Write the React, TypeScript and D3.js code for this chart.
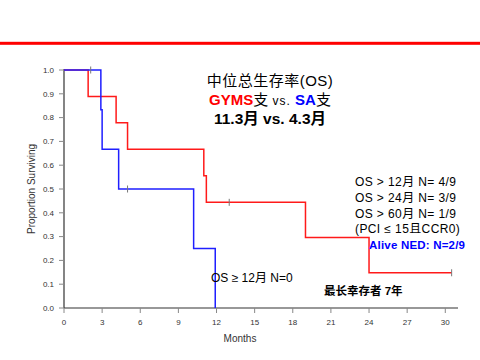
import React from "react";
import * as d3 from "d3";

const redTimes = [0, 1.9, 4.1, 5.0, 11.0, 11.2, 19.0, 24.0];
const redSurv = [1, 0.889, 0.778, 0.667, 0.556, 0.444, 0.296, 0.148];
const redEnd = 30.5;
const redCensorT = [13.0, 30.5];
const redCensorS = [0.444, 0.148];

const blueTimes = [0, 2.9, 3.0, 4.3, 10.2, 11.9];
const blueSurv = [1, 0.833, 0.667, 0.5, 0.25, 0];
const blueEnd = 11.9;
const blueCensorT = [2.1, 5.0];
const blueCensorS = [1.0, 0.5];

const xTicks = [0, 3, 6, 9, 12, 15, 18, 21, 24, 27, 30];
const yTicks = [0, 0.1, 0.2, 0.3, 0.4, 0.5, 0.6, 0.7, 0.8, 0.9, 1.0];

const osLines = ["OS > 12月 N= 4/9", "OS > 24月 N= 3/9", "OS > 60月 N= 1/9", "(PCI ≤ 15且CCR0)"];

const W = 480;
const H = 360;
const SANS = "'Liberation Sans', Arial, sans-serif";
const CJK = "'Liberation Sans', 'Noto Sans CJK SC', sans-serif";

export default function App() {
  const x = d3.scaleLinear().domain([0, 31]).range([64, 458]);
  const y = d3.scaleLinear().domain([0, 1]).range([308, 70]);

  const line = d3
    .line<[number, number]>()
    .x((d) => x(d[0]))
    .y((d) => y(d[1]))
    .curve(d3.curveStepAfter);

  const redPts: [number, number][] = redTimes.map((t, i) => [t, redSurv[i]]);
  redPts.push([redEnd, redSurv[redSurv.length - 1]]);
  const bluePts: [number, number][] = blueTimes.map((t, i) => [t, blueSurv[i]]);
  bluePts.push([blueEnd, blueSurv[blueSurv.length - 1]]);

  const axisColor = "#333";

  const censor = (t: number, s: number, k: string) => (
    <line key={k} x1={x(t)} x2={x(t)} y1={y(s) - 3.5} y2={y(s) + 3.5} stroke="#777" strokeWidth={1} />
  );

  return (
    <svg
      width={W}
      height={H}
      style={{ position: "absolute", left: 0, top: 0, background: "#fff" }}
    >
      <rect x={0} y={0} width={W} height={H} fill="#fff" />
      <rect x={0} y={41.8} width={W} height={3} fill="#ff0000" />

      {/* axes */}
      <line x1={x(0)} x2={x(0)} y1={y(1) - 1} y2={y(0)} stroke={axisColor} strokeWidth={1.2} />
      <line x1={x(0)} x2={x(31)} y1={y(0)} y2={y(0)} stroke={axisColor} strokeWidth={1.2} />
      {yTicks.map((v) => (
        <g key={"y" + v}>
          <line x1={x(0) - 5} x2={x(0)} y1={y(v)} y2={y(v)} stroke="#888" strokeWidth={1} />
          <text
            x={x(0) - 10}
            y={y(v)}
            dy="0.35em"
            textAnchor="end"
            fontFamily={SANS}
            fontSize={8}
            fill="#333"
          >
            {v.toFixed(1)}
          </text>
        </g>
      ))}
      {xTicks.map((v) => (
        <g key={"x" + v}>
          <line x1={x(v)} x2={x(v)} y1={y(0)} y2={y(0) + 5} stroke="#888" strokeWidth={1} />
          <text
            x={x(v)}
            y={322}
            dy="0.35em"
            textAnchor="middle"
            fontFamily={SANS}
            fontSize={8}
            fill="#333"
          >
            {v}
          </text>
        </g>
      ))}
      <text x={240} y={338} dy="0.35em" textAnchor="middle" fontFamily={SANS} fontSize={10} fill="#333">
        Months
      </text>
      <text
        transform={`translate(31,189) rotate(-90)`}
        textAnchor="middle"
        dy="0.35em"
        fontFamily={SANS}
        fontSize={10}
        fill="#333"
      >
        Proportion Surviving
      </text>

      {/* curves */}
      <path d={line(redPts) || ""} fill="none" stroke="#ff1a1a" strokeWidth={1.5} />
      <path d={line(bluePts) || ""} fill="none" stroke="#1f1fff" strokeWidth={1.5} />
      {redCensorT.map((t, i) => censor(t, redCensorS[i], "rc" + i))}
      {blueCensorT.map((t, i) => censor(t, blueCensorS[i], "bc" + i))}

      {/* title */}
      <text x={270} y={81} dy="0.35em" textAnchor="middle" fontFamily={CJK} fontSize={15} letterSpacing={0.5} fill="#000">
        中位总生存率(OS)
      </text>
      <text x={270} y={99.5} dy="0.35em" textAnchor="middle" fontFamily={CJK} fontSize={15} fill="#000">
        <tspan fill="#ff0000" fontWeight="bold">GYMS</tspan>
        <tspan>支 </tspan>
        <tspan fontSize={12} letterSpacing={1}> vs. </tspan>
        <tspan fill="#0000ff" fontWeight="bold">SA</tspan>
        <tspan>支</tspan>
      </text>
      <text
        x={270}
        y={118.5}
        dy="0.35em"
        textAnchor="middle"
        fontFamily={CJK}
        fontSize={15.5}
        fontWeight="bold"
        fill="#000"
      >
        11.3月 vs. 4.3月
      </text>

      {/* right annotations */}
      {osLines.map((s, i) => (
        <text
          key={s}
          x={355}
          y={[181.5, 197.5, 214, 229][i]}
          dy="0.35em"
          fontFamily={CJK}
          fontSize={12}
          letterSpacing={0.4}
          fill="#000"
        >
          {s}
        </text>
      ))}
      <text x={369} y={244.5} dy="0.35em" fontFamily={SANS} fontSize={11.5} letterSpacing={0.2} fontWeight="bold" fill="#0000ff">
        Alive NED: N=2/9
      </text>
      <text x={211} y={277.5} dy="0.35em" fontFamily={CJK} fontSize={12} fill="#000">
        OS ≥ 12月 N=0
      </text>
      <text x={324} y={291} dy="0.35em" fontFamily={CJK} fontSize={11.5} fontWeight="bold" fill="#000">
        最长幸存者 7年
      </text>
    </svg>
  );
}
